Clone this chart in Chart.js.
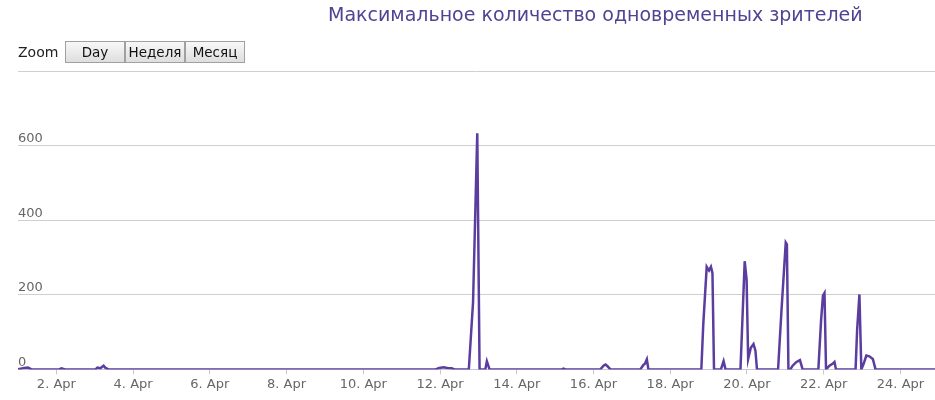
<!DOCTYPE html>
<html>
<head>
<meta charset="utf-8">
<script src="https://cdn.jsdelivr.net/npm/chart.js@4"></script>
<style>
  body { margin: 0; background: #fff; font-family: "DejaVu Sans", sans-serif; }
  #wrap { position: relative; width: 935px; height: 400px; }
  #chart { position: absolute; left: 0; top: 0; }
  #title { position: absolute; left: 328px; top: 3px; font-size: 19px; color: #4f4393; white-space: nowrap; }
  #zoom { position: absolute; left: 18px; top: 41px; height: 22px; font-size: 14px; color: #222; }
  #zoom span { position: absolute; left: 0; top: 3px; }
  #zoom button {
    position: absolute; top: 0; width: 60px; height: 22px; padding: 0;
    font-family: "DejaVu Sans", sans-serif; font-size: 13.5px;
    border: 1px solid #a0a0a0; background: linear-gradient(#f8f8f8, #dedede); color: #111;
  }
</style>
</head>
<body>
<div id="wrap">
  <canvas id="chart" width="935" height="400"></canvas>
  <div id="title">Максимальное количество одновременных зрителей</div>
  <div id="zoom"><span>Zoom</span><button style="left:47px">Day</button><button style="left:107px">Неделя</button><button style="left:167px">Месяц</button></div>
</div>
<script>
// Time as day of April (fractional), viewers per point
const times = [
  1.0, 1.16, 1.26, 1.35, 2.08, 2.13, 2.23,
  3.02, 3.07, 3.15, 3.23, 3.28, 3.36,
  11.88, 11.98, 12.09, 12.19, 12.30, 12.38,
  12.75, 12.86, 12.97, 13.03, 13.18, 13.22, 13.29,
  15.17, 15.22, 15.27,
  16.18, 16.26, 16.31, 16.36, 16.44,
  17.22, 17.30, 17.34, 17.39, 17.43,
  18.81, 18.86, 18.95, 19.01, 19.06, 19.10, 19.14,
  19.32, 19.39, 19.44,
  19.83, 19.94, 19.99, 20.03, 20.10, 20.17, 20.22, 20.26,
  20.81, 20.90, 21.01, 21.04, 21.08, 21.13, 21.19, 21.29, 21.38, 21.45,
  21.86, 21.93, 21.98, 22.02, 22.06, 22.15, 22.23, 22.28, 22.32,
  22.83, 22.87, 22.93, 22.98, 23.04, 23.11, 23.19, 23.28, 23.35,
  24.9
];
const viewers = [
  0, 4, 5, 0, 0, 3, 0,
  0, 5, 3, 10, 4, 0,
  0, 4, 6, 4, 3, 0,
  0, 180, 633, 0, 0, 22, 0,
  0, 2, 0,
  0, 10, 13, 9, 0,
  0, 12, 15, 27, 0,
  0, 120, 275, 265, 275, 258, 0,
  0, 22, 0,
  0, 290, 240, 28, 58, 68, 50, 0,
  0, 160, 340, 335, 0, 0, 10, 20, 25, 0,
  0, 130, 198, 205, 0, 10, 15, 20, 0,
  0, 105, 201, 0, 15, 37, 35, 28, 0,
  0
];
const tickDays = [2, 4, 6, 8, 10, 12, 14, 16, 18, 20, 22, 24];
const tickLabels = ['2. Apr', '4. Apr', '6. Apr', '8. Apr', '10. Apr', '12. Apr',
  '14. Apr', '16. Apr', '18. Apr', '20. Apr', '22. Apr', '24. Apr'];
const yTicks = [0, 200, 400, 600, 800];
const yLabels = ['0', '200', '400', '600', ''];

const chart = new Chart(document.getElementById('chart'), {
  type: 'line',
  data: {
    datasets: [{
      data: times.map((t, i) => ({ x: t, y: viewers[i] })),
      borderColor: '#5a3d9f',
      borderWidth: 2.5,
      pointRadius: 0,
      tension: 0,
      fill: false
    }]
  },
  options: {
    responsive: false,
    animation: false,
    layout: { padding: { top: 71, left: 18, right: 0, bottom: 6 } },
    plugins: { legend: { display: false }, tooltip: { enabled: false } },
    scales: {
      x: {
        type: 'linear',
        min: 1,
        max: 24.9,
        afterBuildTicks: axis => { axis.ticks = tickDays.map(v => ({ value: v })); },
        ticks: {
          callback: value => tickLabels[tickDays.indexOf(value)],
          color: '#666',
          font: { family: 'DejaVu Sans', size: 13 },
          maxRotation: 0,
          autoSkip: false,
          padding: 2
        },
        grid: { drawOnChartArea: false, tickLength: 5, color: '#c8c8c8' },
        border: { color: '#c8c8d8' }
      },
      y: {
        min: 0,
        max: 800,
        afterBuildTicks: axis => { axis.ticks = yTicks.map(v => ({ value: v })); },
        ticks: {
          callback: value => yLabels[yTicks.indexOf(value)],
          mirror: true,
          padding: 0,
          labelOffset: -7,
          color: '#666',
          font: { family: 'DejaVu Sans', size: 13 }
        },
        grid: { color: '#cfcfcf', drawTicks: false },
        border: { display: false }
      }
    }
  }
});
</script>
</body>
</html>
